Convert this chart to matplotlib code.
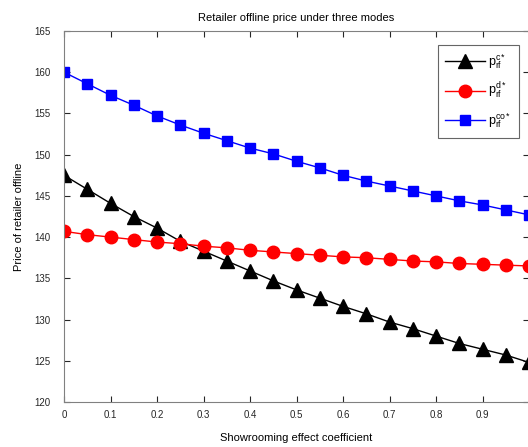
import numpy as np
import matplotlib
matplotlib.use("Agg")
import matplotlib.pyplot as plt

plt.rcParams['font.family'] = ['Liberation Sans', 'DejaVu Sans']
plt.rcParams['mathtext.fontset'] = 'custom'
plt.rcParams['mathtext.rm'] = 'Liberation Sans'
plt.rcParams['mathtext.it'] = 'Liberation Sans'

coef = [0, 0.05, 0.1, 0.15, 0.2, 0.25, 0.3, 0.35, 0.4, 0.45, 0.5,
        0.55, 0.6, 0.65, 0.7, 0.75, 0.8, 0.85, 0.9, 0.95, 1.0]
price_c = [147.5, 145.8, 144.1, 142.5, 141.1, 139.5, 138.3, 137.1, 135.9, 134.7, 133.6,
           132.6, 131.6, 130.7, 129.7, 128.9, 128.0, 127.1, 126.4, 125.7, 124.8]
price_d = [140.7, 140.3, 140.0, 139.7, 139.4, 139.2, 138.9, 138.7, 138.4, 138.2, 138.0,
           137.8, 137.6, 137.5, 137.3, 137.1, 137.0, 136.8, 136.7, 136.6, 136.5]
price_co = [160.0, 158.6, 157.2, 156.0, 154.7, 153.6, 152.6, 151.7, 150.8, 150.1, 149.2,
            148.4, 147.5, 146.8, 146.2, 145.6, 145.0, 144.4, 143.9, 143.3, 142.7]
xticks = [0, 0.1, 0.2, 0.3, 0.4, 0.5, 0.6, 0.7, 0.8, 0.9, 1.0]
xticklabels = ['0', '0.1', '0.2', '0.3', '0.4', '0.5', '0.6', '0.7', '0.8', '0.9', '']
yticks = [120, 125, 130, 135, 140, 145, 150, 155, 160, 165]

W, H = 528, 447
dpi = 100
fig = plt.figure(figsize=(W / dpi, H / dpi), dpi=dpi)
ax = fig.add_axes([64 / W, (H - 402) / H, (529 - 64) / W, (402 - 31) / H])

ax.plot(coef, price_c, color='black', marker='^', markersize=9.5, lw=1,
        label=r'$\mathregular{p_{rf}^{c*}}$')
ax.plot(coef, price_d, color='red', marker='o', markersize=9, lw=1,
        label=r'$\mathregular{p_{rf}^{d*}}$')
ax.plot(coef, price_co, color='blue', marker='s', markersize=6.5, lw=1,
        label=r'$\mathregular{p_{rf}^{co*}}$')

ax.set_xlim(0, 1)
ax.set_ylim(120, 165)
ax.set_xticks(xticks)
ax.set_xticklabels(xticklabels)
ax.set_yticks(yticks)
ax.tick_params(direction='in', top=True, right=True, length=4, width=0.8,
               labelsize=7, colors='#262626')
ax.tick_params(axis='x', pad=6)
ax.tick_params(axis='y', pad=10)
for s in ax.spines.values():
    s.set_color('#808080')
    s.set_linewidth(0.8)

ax.set_title('Retailer offline price under three modes', fontsize=8, pad=7)
ax.set_xlabel('Showrooming effect coefficient', fontsize=8, labelpad=9)
ax.set_ylabel('Price of retailer offline', fontsize=8, labelpad=7)

leg = ax.legend(loc='upper right', bbox_to_anchor=(519 / W, (H - 45) / H),
                bbox_transform=fig.transFigure, borderaxespad=0, fontsize=9,
                frameon=True, fancybox=False, edgecolor='#404040',
                handlelength=3.2, labelspacing=0.8, borderpad=0.6,
                handletextpad=0.25)
leg.get_frame().set_linewidth(0.8)

fig.savefig('out.png', dpi=dpi)
